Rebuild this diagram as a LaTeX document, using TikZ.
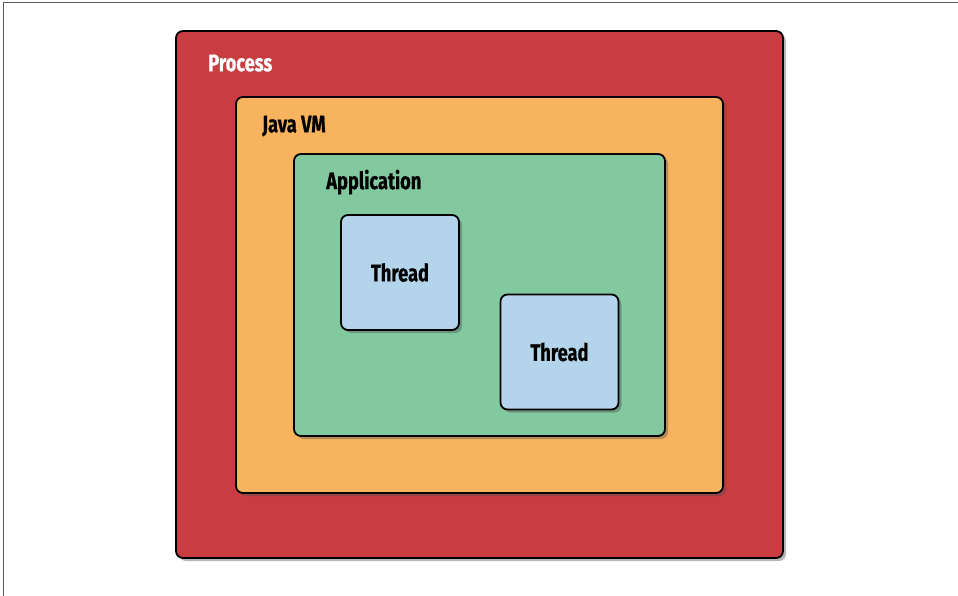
\documentclass[tikz,border=0pt]{standalone}
\usepackage{fontspec}
\newfontfamily\boxfont{Fira Sans}[FakeStretch=0.76,FakeBold=0.6]
\usepackage{tikz}
\usetikzlibrary{shadows}
\usetikzlibrary{calc}
\definecolor{processred}{HTML}{C83C42}
\definecolor{vmorange}{HTML}{F8B35F}
\definecolor{appgreen}{HTML}{82C9A0}
\definecolor{threadblue}{HTML}{B3D4EA}
\tikzstyle{layer}=[rectangle,draw=black,line width=1.8pt,rounded corners=7pt,inner sep=0pt,drop shadow={shadow xshift=3pt,shadow yshift=-3pt,opacity=0.4,fill=black!70}]
\tikzstyle{thread}=[layer,fill=threadblue,minimum width=118pt,minimum height=115pt,font=\boxfont\bfseries\fontsize{24}{24}\selectfont]
\tikzstyle{label} = [anchor=west,inner sep=0pt,font=\boxfont\bfseries\fontsize{24}{24}\selectfont]

\begin{document}
\begin{tikzpicture}[x=1pt,y=-1pt]
    \useasboundingbox (0,0) rectangle (958,596);
    % frame of the screenshot
    \draw[black!65, line width=1pt] (3,596) -- (3,3) -- (958,3);

    % First we draw the nested layers
    \node[layer,fill=processred,minimum width=607pt,minimum height=527pt] (process) at (479.5,294.5) {};
    \node[layer,fill=vmorange,minimum width=487pt,minimum height=396pt] (vm) at (479.5,295) {};
    \node[layer,fill=appgreen,minimum width=371pt,minimum height=282pt] (app) at (479.5,295) {};

    % Labels of the layers
    \node[label,white] (processlabel) at ($(process.north west)+(33,33)$) {Process};
    \node[label] (vmlabel) at ($(vm.north west)+(27,30)$) {Java VM};
    \node[label] (applabel) at ($(app.north west)+(33,29)$) {Application};

    % Then the threads
    \foreach \pos/ \name in {{(400,272.5)/threadA},{(559.5,352)/threadB}}
        \node[thread] (\name) at \pos {Thread};

\end{tikzpicture}
\end{document}
